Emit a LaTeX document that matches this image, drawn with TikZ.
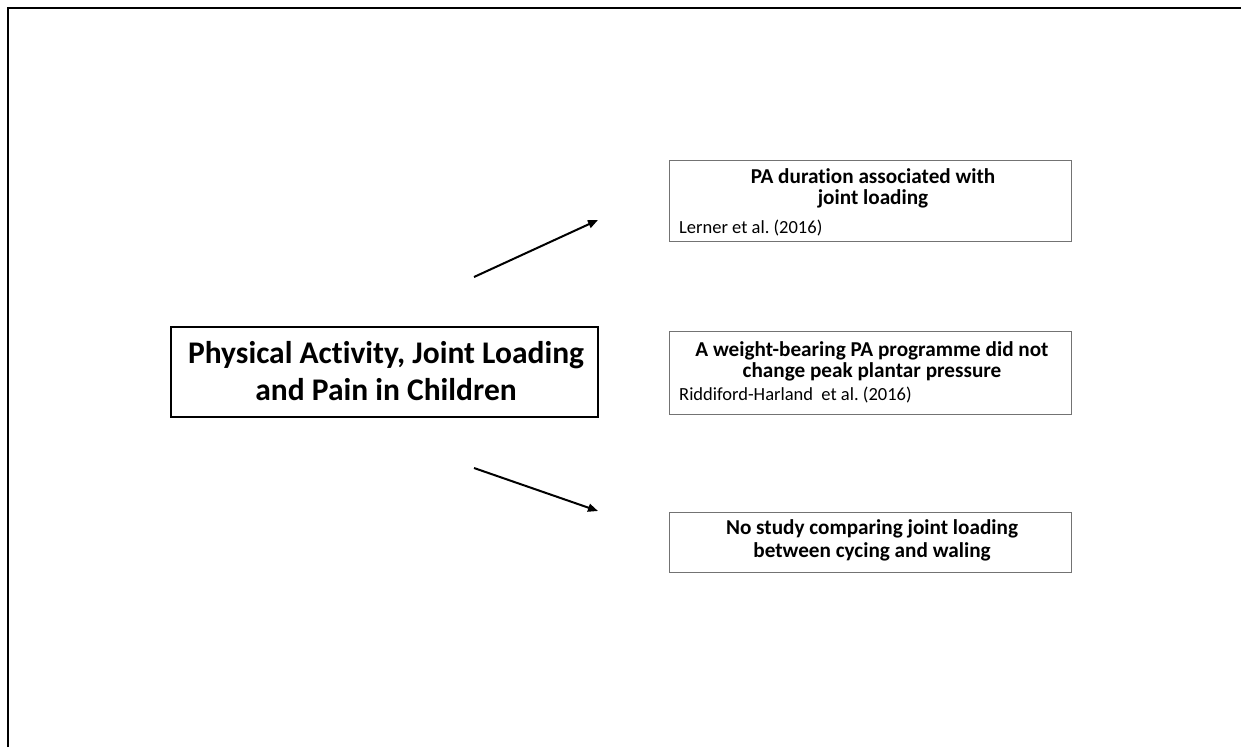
\documentclass[tikz,border=0pt]{standalone}
\usepackage{fontspec}
\setmainfont{Carlito}[Ligatures=NoCommon]
\usetikzlibrary{arrows.meta}
\frenchspacing
\begin{document}
\begin{tikzpicture}[x=1pt,y=-1pt,
  mainbox/.style={draw=black,line width=2pt,inner sep=0pt,minimum width=427pt,minimum height=90pt},
  findbox/.style={draw=black!55,line width=1pt,inner sep=0pt,minimum width=402pt},
  titletext/.style={inner sep=0pt,anchor=base,font=\fontsize{31.5}{37}\selectfont\bfseries},
  findtext/.style={inner sep=0pt,anchor=base,font=\fontsize{21.2}{25}\selectfont\bfseries},
  citetext/.style={inner sep=0pt,anchor=base west,font=\fontsize{18.5}{22}\selectfont},
  link/.style={line width=2pt,-{Triangle[length=10pt,width=8pt]}}]
\useasboundingbox (0,0) rectangle (1241,747);
% outer frame, open to the right and bottom
\draw[line width=2.5pt] (8,747) -- (8,8) -- (1241,8);

% central topic
\node[mainbox] (main) at (384.5,372) {};
\node[titletext] (mainA) at (386,363) {Physical Activity, Joint Loading};
\node[titletext] (mainB) at (386,400) {and Pain in Children};

% first finding
\node[findbox,minimum height=81.7pt] (boxA) at (870,200.85) {};
\node[findtext] (boxAa) at (873,183.3) {PA duration associated with};
\node[findtext] (boxAb) at (873,204.5) {joint loading};
\node[citetext] (boxAc) at (679,233.3) {Lerner et al. (2016)};

% second finding
\node[findbox,minimum height=83.3pt] (boxB) at (870,372.65) {};
\node[findtext] (boxBa) at (872,356) {A weight-bearing PA programme did not};
\node[findtext] (boxBb) at (872,377.3) {change peak plantar pressure};
\node[citetext] (boxBc) at (679,400) {Riddiford-Harland\ \ et al. (2016)};

% third finding
\node[findbox,minimum height=60pt] (boxC) at (870,542) {};
\node[findtext] (boxCa) at (872,534) {No study comparing joint loading};
\node[findtext] (boxCb) at (872,557) {between cycing and waling};

% arrows
\coordinate (upS) at (474,277);
\coordinate (upE) at (598,220);
\coordinate (downS) at (474,468);
\coordinate (downE) at (598,511);
\draw[link] (upS) -- (upE);
\draw[link] (downS) -- (downE);
\end{tikzpicture}
\end{document}
